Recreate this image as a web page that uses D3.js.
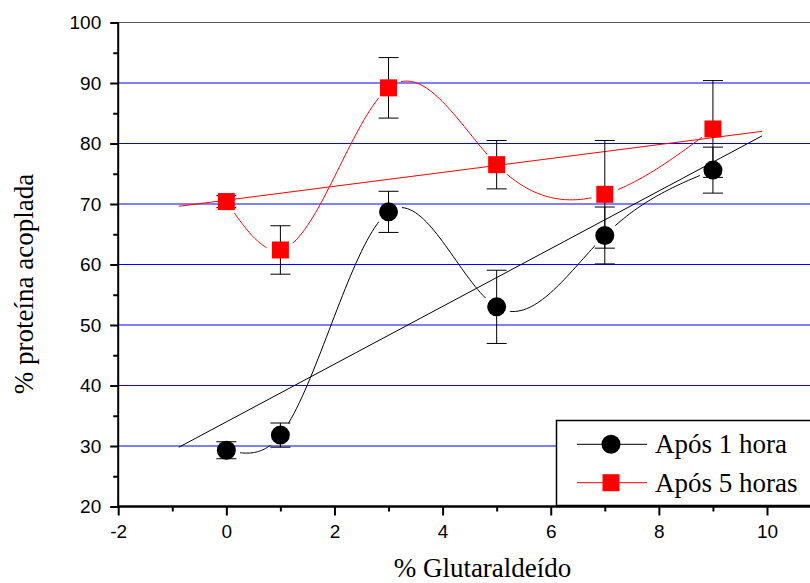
<!DOCTYPE html>
<html>
<head>
<meta charset="utf-8">
<script src="https://cdn.jsdelivr.net/npm/d3@7"></script>
<style>
  html, body { margin: 0; padding: 0; background: #fff; }
  svg { display: block; }
</style>
</head>
<body>
<svg id="chart" width="810" height="583"></svg>
<script>
// ---- data ----
const xValues = [0, 1, 3, 5, 7, 9];
const after1h = [29.3, 31.8, 68.7, 53.0, 64.8, 75.6];
const after1hErr = [1.4, 2.0, 3.4, 6.05, 4.7, 3.8];
const after5h = [70.4, 62.4, 89.2, 76.5, 71.6, 82.4];
const after5hErr = [1.0, 4.0, 5.0, 4.0, 8.9, 8.0];
const seriesNames = ["Após 1 hora", "Após 5 horas"];
const fitRange = [-0.88, 9.91];
const xTicks = [-2, 0, 2, 4, 6, 8, 10];
const xMinorTicks = [-1, 1, 3, 5, 7, 9];
const yTicks = [20, 30, 40, 50, 60, 70, 80, 90, 100];
const yMinorTicks = [25, 35, 45, 55, 65, 75, 85, 95];
const gridValues = [30, 40, 50, 60, 70, 80, 90];

// ---- layout ----
const svg = d3.select("#chart");
const x = d3.scaleLinear().domain([-2, 10]).range([118.2, 767]);
const y = d3.scaleLinear().domain([20, 100]).range([506.5, 22.5]);
const rightEdge = 812;

// grid lines
svg.append("g").selectAll("line").data(gridValues).join("line")
  .attr("x1", x(-2)).attr("x2", rightEdge)
  .attr("y1", d => y(d)).attr("y2", d => y(d))
  .attr("stroke", "#0000ff").attr("stroke-width", 1);

// top border
svg.append("line").attr("x1", x(-2)).attr("x2", rightEdge)
  .attr("y1", y(100)).attr("y2", y(100))
  .attr("stroke", "#555").attr("stroke-width", 1);

// natural cubic spline
function naturalSpline(xs, ys) {
  const n = xs.length;
  const h = [];
  for (let i = 0; i < n - 1; i++) h.push(xs[i + 1] - xs[i]);
  const M = new Array(n).fill(0);
  const a = [], b = [], c = [], r = [];
  for (let i = 1; i < n - 1; i++) {
    a.push(h[i - 1]);
    b.push(2 * (h[i - 1] + h[i]));
    c.push(h[i]);
    r.push(6 * ((ys[i + 1] - ys[i]) / h[i] - (ys[i] - ys[i - 1]) / h[i - 1]));
  }
  const m = b.length;
  const cp = [], rp = [];
  for (let i = 0; i < m; i++) {
    const denom = b[i] - (i > 0 ? a[i] * cp[i - 1] : 0);
    cp.push(c[i] / denom);
    rp.push((r[i] - (i > 0 ? a[i] * rp[i - 1] : 0)) / denom);
  }
  const sol = new Array(m);
  for (let i = m - 1; i >= 0; i--) sol[i] = rp[i] - (i < m - 1 ? cp[i] * sol[i + 1] : 0);
  for (let i = 0; i < m; i++) M[i + 1] = sol[i];
  const pts = [];
  for (let i = 0; i < n - 1; i++) {
    const steps = 40;
    for (let s = 0; s <= steps; s++) {
      if (i > 0 && s === 0) continue;
      const xv = xs[i] + h[i] * s / steps;
      const A = xs[i + 1] - xv, B = xv - xs[i];
      const yv = M[i] * A * A * A / (6 * h[i]) + M[i + 1] * B * B * B / (6 * h[i])
        + (ys[i] / h[i] - M[i] * h[i] / 6) * A + (ys[i + 1] / h[i] - M[i + 1] * h[i] / 6) * B;
      pts.push([xv, yv]);
    }
  }
  return pts;
}

function linFit(xs, ys) {
  const mx = d3.mean(xs), my = d3.mean(ys);
  let sxy = 0, sxx = 0;
  xs.forEach((v, i) => { sxy += (v - mx) * (ys[i] - my); sxx += (v - mx) * (v - mx); });
  const slope = sxy / sxx;
  return v => my + slope * (v - mx);
}

const line = d3.line().x(d => x(d[0])).y(d => y(d[1]));
const defs = svg.append("defs");

const series = [
  { vals: after1h, err: after1hErr, color: "#000", id: "s1", shape: "circle" },
  { vals: after5h, err: after5hErr, color: "#ff0000", id: "s2", shape: "square" }
];

// masks and lines
series.forEach(s => {
  const mask = defs.append("mask").attr("id", "mask-" + s.id).attr("maskUnits", "userSpaceOnUse")
    .attr("x", 0).attr("y", 0).attr("width", 810).attr("height", 583);
  mask.append("rect").attr("x", 0).attr("y", 0).attr("width", 810).attr("height", 583).attr("fill", "#fff");
  mask.selectAll("circle").data(xValues).join("circle")
    .attr("cx", d => x(d)).attr("cy", (d, i) => y(s.vals[i])).attr("r", 14).attr("fill", "#000");

  const f = linFit(xValues, s.vals);
  svg.append("path").datum(fitRange.map(v => [v, f(v)]))
    .attr("d", line).attr("fill", "none").attr("stroke", s.color).attr("stroke-width", 1);

  svg.append("path").datum(naturalSpline(xValues, s.vals))
    .attr("d", line).attr("fill", "none").attr("stroke", s.color).attr("stroke-width", 1)
    .attr("mask", "url(#mask-" + s.id + ")");
});

// error bars
series.forEach(s => {
  const g = svg.append("g").attr("stroke", "#000").attr("stroke-width", 1);
  xValues.forEach((xv, i) => {
    const cx = x(xv), top = y(s.vals[i] + s.err[i]), bot = y(s.vals[i] - s.err[i]);
    g.append("line").attr("x1", cx).attr("x2", cx).attr("y1", top).attr("y2", bot);
    g.append("line").attr("x1", cx - 10).attr("x2", cx + 10).attr("y1", top).attr("y2", top);
    g.append("line").attr("x1", cx - 10).attr("x2", cx + 10).attr("y1", bot).attr("y2", bot);
  });
});

// markers
function drawMarker(g, shape, cx, cy, color) {
  if (shape === "circle") {
    g.append("circle").attr("cx", cx).attr("cy", cy).attr("r", 9.5).attr("fill", color);
  } else {
    g.append("rect").attr("x", cx - 8.5).attr("y", cy - 8.5).attr("width", 17).attr("height", 17).attr("fill", color);
  }
}
series.forEach(s => {
  const g = svg.append("g");
  xValues.forEach((xv, i) => drawMarker(g, s.shape, x(xv), y(s.vals[i]), s.color));
});

// axes
const tickFont = "'Liberation Sans', Arial, sans-serif";
const fmt = d => String(d);
const yAxis = svg.append("g").attr("transform", `translate(${x(-2)},0)`)
  .call(d3.axisLeft(y).tickValues(yTicks).tickSize(8).tickPadding(9).tickFormat(fmt));
const yMinor = svg.append("g").attr("transform", `translate(${x(-2)},0)`)
  .call(d3.axisLeft(y).tickValues(yMinorTicks).tickSize(5).tickFormat(""));
const xAxis = svg.append("g").attr("transform", `translate(0,${y(20)})`)
  .call(d3.axisBottom(x).tickValues(xTicks).tickSize(9).tickPadding(9).tickFormat(fmt));
const xMinor = svg.append("g").attr("transform", `translate(0,${y(20)})`)
  .call(d3.axisBottom(x).tickValues(xMinorTicks).tickSize(5).tickFormat(""));

[yAxis, yMinor, xAxis, xMinor].forEach(a => {
  a.select(".domain").remove();
  a.selectAll(".tick line").attr("stroke", "#000").attr("stroke-width", 2);
  a.selectAll("text").attr("fill", "#000").style("font-family", tickFont).style("font-size", "19px");
});

svg.append("line").attr("x1", x(-2)).attr("x2", x(-2)).attr("y1", y(100)).attr("y2", y(20) + 1)
  .attr("stroke", "#000").attr("stroke-width", 2);
svg.append("line").attr("x1", x(-2) - 1).attr("x2", rightEdge).attr("y1", y(20)).attr("y2", y(20))
  .attr("stroke", "#000").attr("stroke-width", 2.5);

// axis titles
const serif = "'Liberation Serif', 'Times New Roman', serif";
svg.append("text").attr("x", 482.5).attr("y", 577).attr("text-anchor", "middle")
  .style("font-family", serif).style("font-size", "27px").text("% Glutaraldeído");
svg.append("text").attr("transform", "translate(33,284) rotate(-90)").attr("text-anchor", "middle")
  .style("font-family", serif).style("font-size", "27px").text("% proteína acoplada");

// legend
const lg = svg.append("g");
lg.append("rect").attr("x", 556.5).attr("y", 420.5).attr("width", 300).attr("height", 85)
  .attr("fill", "#fff").attr("stroke", "#000").attr("stroke-width", 1.5);
const rowsY = [444.3, 482.7];
series.forEach((s, i) => {
  lg.append("line").attr("x1", 577).attr("x2", 647).attr("y1", rowsY[i]).attr("y2", rowsY[i])
    .attr("stroke", s.color).attr("stroke-width", 1);
  drawMarker(lg, s.shape, 611, rowsY[i], s.color);
  lg.append("text").attr("x", 655).attr("y", rowsY[i] + 9).style("font-family", serif)
    .style("font-size", "27px").attr("fill", "#000").text(seriesNames[i]);
});
</script>
</body>
</html>
